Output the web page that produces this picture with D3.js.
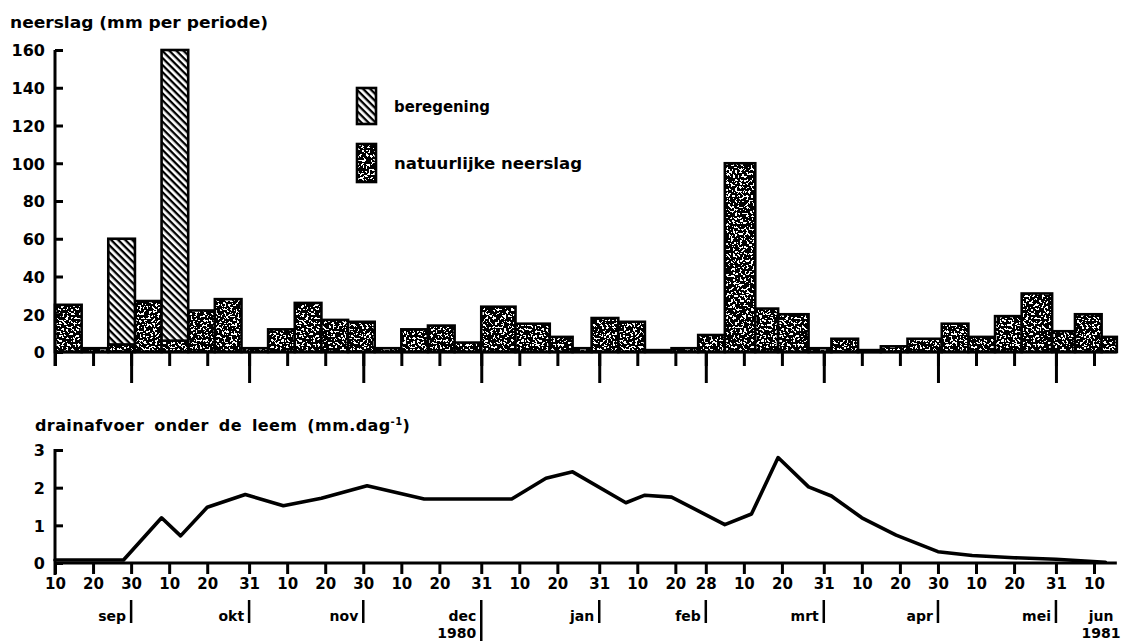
<!DOCTYPE html>
<html>
<head>
<meta charset="utf-8">
<script src="https://cdn.jsdelivr.net/npm/d3@7"></script>
<style>
  body { margin: 0; background: #fff; }
  text { font-family: "DejaVu Sans", sans-serif; font-weight: bold; fill: #000; }
</style>
</head>
<body>
<svg id="chart" width="1123" height="644"></svg>
<script>
// Period boundaries: each period runs from one edge to the next
const periodEdges = [
  "1980-09-10","1980-09-17","1980-09-24","1980-10-01","1980-10-08","1980-10-15",
  "1980-10-22","1980-10-29","1980-11-05","1980-11-12","1980-11-19","1980-11-26",
  "1980-12-03","1980-12-10","1980-12-17","1980-12-24","1980-12-31","1981-01-09",
  "1981-01-18","1981-01-24","1981-01-29","1981-02-05","1981-02-12","1981-02-19",
  "1981-02-26","1981-03-05","1981-03-13","1981-03-19","1981-03-27","1981-04-02",
  "1981-04-09","1981-04-15","1981-04-22","1981-05-01","1981-05-08","1981-05-15",
  "1981-05-22","1981-05-30","1981-06-05","1981-06-12","1981-06-16"
];
// natural rainfall per period (mm)
const natuurlijk = [
  25, 2, 4, 27, 6, 22, 28, 2, 12, 26, 17, 16,
  2, 12, 14, 5, 24, 15, 8, 2, 18, 16, 1, 2,
  9, 100, 23, 20, 2, 7, 1, 3, 7, 15, 8, 19,
  31, 11, 20, 8
];
// irrigation per period (mm), stacked on the natural rainfall
const beregening = [
  0, 0, 56, 0, 154, 0, 0, 0, 0, 0, 0, 0,
  0, 0, 0, 0, 0, 0, 0, 0, 0, 0, 0, 0,
  0, 0, 0, 0, 0, 0, 0, 0, 0, 0, 0, 0,
  0, 0, 0, 0
];

// drain discharge below the loam layer (mm/day)
const drainDates = [
  "1980-09-10","1980-09-28","1980-10-08","1980-10-13","1980-10-20","1980-10-30",
  "1980-11-09","1980-11-19","1980-12-01","1980-12-16","1981-01-08","1981-01-17",
  "1981-01-24","1981-02-07","1981-02-12","1981-02-19","1981-03-05","1981-03-12",
  "1981-03-19","1981-03-27","1981-04-02","1981-04-10","1981-04-19","1981-04-25",
  "1981-04-30","1981-05-09","1981-05-20","1981-05-31","1981-06-13"
];
const drainValues = [
  0.08, 0.08, 1.2, 0.72, 1.48, 1.82,
  1.52, 1.72, 2.05, 1.7, 1.7, 2.25,
  2.42, 1.6, 1.8, 1.75, 1.02, 1.3,
  2.8, 2.02, 1.78, 1.2, 0.74, 0.5,
  0.3, 0.2, 0.14, 0.1, 0.02
];

// dekad ticks along the time axis
const tickDates = [
  "1980-09-10","1980-09-20","1980-09-30","1980-10-10","1980-10-20","1980-10-31",
  "1980-11-10","1980-11-20","1980-11-30","1980-12-10","1980-12-20","1980-12-31",
  "1981-01-10","1981-01-20","1981-01-31","1981-02-10","1981-02-20","1981-02-28",
  "1981-03-10","1981-03-20","1981-03-31","1981-04-10","1981-04-20","1981-04-30",
  "1981-05-10","1981-05-20","1981-05-31","1981-06-10"
];
const tickLabels = [
  "10","20","30","10","20","31","10","20","30","10","20","31","10","20",
  "31","10","20","28","10","20","31","10","20","30","10","20","31","10"
];
const monthEnds = [
  "1980-09-30","1980-10-31","1980-11-30","1980-12-31","1981-01-31",
  "1981-02-28","1981-03-31","1981-04-30","1981-05-31"
];
const monthNames = ["sep","okt","nov","dec","jan","feb","mrt","apr","mei"];
const rainTicks = [0, 20, 40, 60, 80, 100, 120, 140, 160];
const drainTicks = [0, 1, 2, 3];

const parse = d3.utcParse("%Y-%m-%d");
const edges = periodEdges.map(parse);
const svg = d3.select("#chart");

const x = d3.scaleUtc()
  .domain([parse("1980-09-10"), parse("1981-06-10")])
  .range([55, 1094]);
const yRain = d3.scaleLinear().domain([0, 160]).range([352, 50]);
const yDrain = d3.scaleLinear().domain([0, 3]).range([563, 450]);

// ---------- fills ----------
const defs = svg.append("defs");
const noise = defs.append("filter").attr("id", "noise")
  .attr("x", 0).attr("y", 0).attr("width", "100%").attr("height", "100%")
  .attr("filterUnits", "userSpaceOnUse");
noise.append("feTurbulence").attr("type", "fractalNoise")
  .attr("baseFrequency", 0.45).attr("numOctaves", 2).attr("seed", 7);
noise.append("feColorMatrix").attr("type", "matrix")
  .attr("values", "0 0 0 0 0  0 0 0 0 0  0 0 0 0 0  1.6 0 0 0 -0.19");
noise.append("feComponentTransfer")
  .append("feFuncA").attr("type", "discrete").attr("tableValues", "0 1");

const stip = defs.append("pattern").attr("id", "stip")
  .attr("patternUnits", "userSpaceOnUse").attr("width", 240).attr("height", 240);
stip.append("rect").attr("width", 240).attr("height", 240).attr("fill", "#fff");
stip.append("rect").attr("width", 240).attr("height", 240).attr("filter", "url(#noise)");

const hatch = defs.append("pattern").attr("id", "hatch")
  .attr("patternUnits", "userSpaceOnUse").attr("width", 5).attr("height", 5)
  .attr("patternTransform", "rotate(45)");
hatch.append("rect").attr("width", 5).attr("height", 5).attr("fill", "#fff");
hatch.append("rect").attr("width", 5).attr("height", 2.3).attr("fill", "#000");

// ---------- top panel: rainfall ----------
svg.append("text").attr("x", 10).attr("y", 28)
  .attr("font-size", 16).attr("textLength", 258).attr("lengthAdjust", "spacingAndGlyphs")
  .text("neerslag (mm per periode)");

const periods = natuurlijk.map((v, i) => ({
  x0: edges[i], x1: edges[i + 1], nat: v, ber: beregening[i]
}));

svg.append("g").selectAll("rect").data(periods).join("rect")
  .attr("x", d => x(d.x0)).attr("width", d => x(d.x1) - x(d.x0))
  .attr("y", d => yRain(d.nat)).attr("height", d => yRain(0) - yRain(d.nat))
  .attr("fill", "url(#stip)").attr("stroke", "#000").attr("stroke-width", 2.6);

svg.append("g").selectAll("rect").data(periods.filter(d => d.ber > 0)).join("rect")
  .attr("x", d => x(d.x0)).attr("width", d => x(d.x1) - x(d.x0))
  .attr("y", d => yRain(d.nat + d.ber)).attr("height", d => yRain(d.nat) - yRain(d.nat + d.ber))
  .attr("fill", "url(#hatch)").attr("stroke", "#000").attr("stroke-width", 2.6);

// baseline
svg.append("line")
  .attr("x1", x(edges[0])).attr("x2", x(edges[edges.length - 1]))
  .attr("y1", yRain(0)).attr("y2", yRain(0))
  .attr("stroke", "#000").attr("stroke-width", 3.2);

function styleAxis(g) {
  g.selectAll("path").attr("stroke", "#000").attr("stroke-width", 3);
  g.selectAll("line").attr("stroke", "#000").attr("stroke-width", 3);
  g.selectAll("text").attr("font-family", null).attr("font-size", null);
}

const yRainAxis = svg.append("g").attr("transform", "translate(55,0)")
  .call(d3.axisLeft(yRain).tickValues(rainTicks).tickFormat(d3.format("d"))
    .tickSizeInner(-8).tickSizeOuter(0).tickPadding(10))
  .call(styleAxis);
yRainAxis.select(".domain").attr("d", `M0,${yRain(160)}V${yRain(0) + 14}`);
yRainAxis.selectAll("text").attr("font-size", 16).attr("dy", "0.36em");

// dekad ticks and longer month-end ticks
svg.append("g").attr("transform", `translate(0,${yRain(0)})`)
  .call(d3.axisBottom(x).tickValues(tickDates.map(parse)).tickSize(14).tickFormat(""))
  .call(styleAxis).select(".domain").remove();
svg.append("g").attr("transform", `translate(0,${yRain(0)})`)
  .call(d3.axisBottom(x).tickValues(monthEnds.map(parse)).tickSize(31).tickFormat(""))
  .call(styleAxis).select(".domain").remove();

// legend
const legend = svg.append("g");
legend.append("rect").attr("x", 357).attr("y", 88).attr("width", 19).attr("height", 36)
  .attr("fill", "url(#hatch)").attr("stroke", "#000").attr("stroke-width", 2.6);
legend.append("rect").attr("x", 357).attr("y", 144).attr("width", 19).attr("height", 38)
  .attr("fill", "url(#stip)").attr("stroke", "#000").attr("stroke-width", 2.6);
legend.append("text").attr("x", 394).attr("y", 112).attr("font-size", 15)
  .attr("textLength", 96).attr("lengthAdjust", "spacingAndGlyphs").text("beregening");
legend.append("text").attr("x", 394).attr("y", 169).attr("font-size", 15)
  .attr("textLength", 188).attr("lengthAdjust", "spacingAndGlyphs").text("natuurlijke neerslag");

// ---------- bottom panel: drain discharge ----------
const title2 = svg.append("text").attr("x", 35).attr("y", 431).attr("font-size", 16)
  .attr("letter-spacing", 0.4).attr("word-spacing", 4);
title2.append("tspan").text("drainafvoer onder de leem (mm.dag");
title2.append("tspan").attr("font-size", 10).attr("dy", -6).text("-1");
title2.append("tspan").attr("dy", 6).text(")");

const yDrainAxis = svg.append("g").attr("transform", "translate(55,0)")
  .call(d3.axisLeft(yDrain).tickValues(drainTicks).tickFormat(d3.format("d"))
    .tickSizeInner(-8).tickSizeOuter(0).tickPadding(10))
  .call(styleAxis);
yDrainAxis.select(".domain").attr("d", `M0,${yDrain(3) - 1}V${yDrain(0) + 12}`);
yDrainAxis.selectAll("text").attr("font-size", 16).attr("dy", "0.36em");

svg.append("line")
  .attr("x1", x(edges[0])).attr("x2", x(edges[edges.length - 1]))
  .attr("y1", yDrain(0)).attr("y2", yDrain(0))
  .attr("stroke", "#000").attr("stroke-width", 3.2);

const xAxis = svg.append("g").attr("transform", `translate(0,${yDrain(0)})`)
  .call(d3.axisBottom(x).tickValues(tickDates.map(parse)).tickSize(11).tickPadding(4)
    .tickFormat((d, i) => tickLabels[i]))
  .call(styleAxis);
xAxis.select(".domain").remove();
xAxis.selectAll("text").attr("font-size", 15);

// month names with their end markers
const months = monthEnds.map((d, i) => ({ date: parse(d), name: monthNames[i] }));
const mg = svg.append("g");
mg.selectAll("text").data(months).join("text")
  .attr("x", d => x(d.date) - 5).attr("y", 621).attr("text-anchor", "end")
  .attr("font-size", 14).text(d => d.name);
mg.selectAll("line").data(months).join("line")
  .attr("x1", d => x(d.date)).attr("x2", d => x(d.date))
  .attr("y1", 600).attr("y2", d => d.name === "dec" ? 641 : 623)
  .attr("stroke", "#000").attr("stroke-width", 2.5);
mg.append("text").attr("x", x(parse("1980-12-31")) - 5).attr("y", 638)
  .attr("text-anchor", "end").attr("font-size", 14).text("1980");
mg.append("text").attr("x", x(parse("1981-06-10")) + 7).attr("y", 621)
  .attr("text-anchor", "middle").attr("font-size", 14).text("jun");
mg.append("text").attr("x", x(parse("1981-06-10")) + 7).attr("y", 638)
  .attr("text-anchor", "middle").attr("font-size", 14).text("1981");

const drain = drainDates.map((d, i) => ({ date: parse(d), v: drainValues[i] }));
svg.append("path").datum(drain)
  .attr("d", d3.line().x(d => x(d.date)).y(d => yDrain(d.v)))
  .attr("fill", "none").attr("stroke", "#000").attr("stroke-width", 3.6)
  .attr("stroke-linejoin", "round").attr("stroke-linecap", "round");
</script>
</body>
</html>
